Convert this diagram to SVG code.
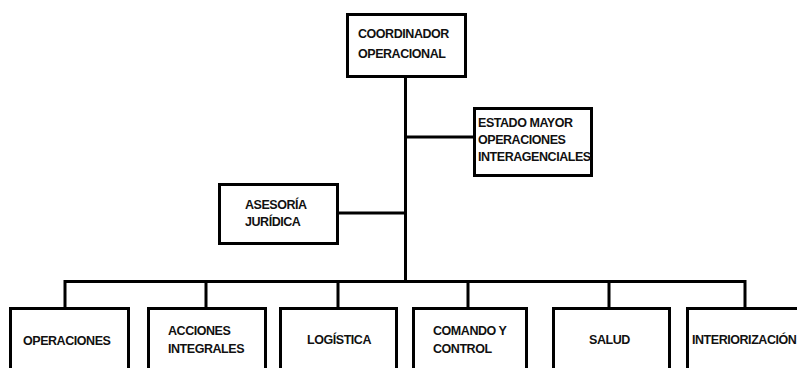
<svg xmlns="http://www.w3.org/2000/svg" width="797" height="368" viewBox="0 0 797 368">
<style>
.box{fill:#fff;stroke:#000;stroke-width:3}
.ln{fill:none;stroke:#000;stroke-width:3;stroke-linejoin:miter}
text{font-family:"Liberation Sans",Arial,sans-serif;font-weight:bold;font-size:12.5px;letter-spacing:-0.45px;fill:#111}
</style>
<rect width="797" height="368" fill="#fff"/>
<g id="connectors">
<path class="ln" d="M405.5,77 V281.5"/>
<path class="ln" d="M65,309 V281.5 H745 V309"/>
<path class="ln" d="M206,281.5 V309 M338,281.5 V309 M468,281.5 V309 M609,281.5 V309"/>
<path class="ln" d="M405.5,137 H475"/>
<path class="ln" d="M338,213 H405.5"/>
</g>
<g id="coordinador">
<rect class="box" x="347.5" y="14.5" width="118" height="62"/>
<text x="358" y="38">COORDINADOR</text>
<text x="358" y="57.5">OPERACIONAL</text>
</g>
<g id="estado-mayor">
<rect class="box" x="474.5" y="108.5" width="117" height="67"/>
<text x="478" y="127">ESTADO MAYOR</text>
<text x="478" y="143.5">OPERACIONES</text>
<text x="478" y="161">INTERAGENCIALES</text>
</g>
<g id="asesoria">
<rect class="box" x="219.5" y="184.5" width="118" height="59"/>
<text x="245" y="209">ASESORÍA</text>
<text x="245" y="225.5">JURÍDICA</text>
</g>
<g id="operaciones">
<rect class="box" x="10.5" y="308.5" width="118" height="80"/>
<text x="23" y="345">OPERACIONES</text>
</g>
<g id="acciones">
<rect class="box" x="148.5" y="308.5" width="117" height="80"/>
<text x="168" y="335">ACCIONES</text>
<text x="168" y="353">INTEGRALES</text>
</g>
<g id="logistica">
<rect class="box" x="280.5" y="308.5" width="116" height="80"/>
<text x="307" y="343.5">LOGÍSTICA</text>
</g>
<g id="comando">
<rect class="box" x="413.5" y="308.5" width="113" height="80"/>
<text x="433" y="335">COMANDO Y</text>
<text x="433" y="353">CONTROL</text>
</g>
<g id="salud">
<rect class="box" x="553.5" y="308.5" width="116" height="80"/>
<text x="589" y="344">SALUD</text>
</g>
<g id="interiorizacion">
<rect class="box" x="687.5" y="308.5" width="130" height="80"/>
<text x="692" y="344">INTERIORIZACIÓN</text>
</g>
</svg>
